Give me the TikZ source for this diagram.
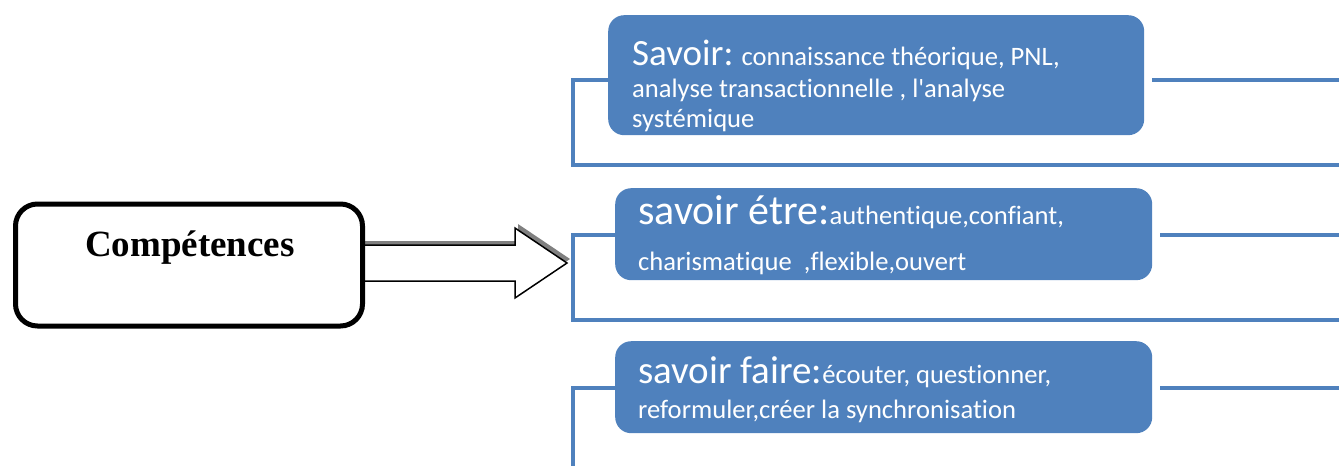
\documentclass[tikz,border=0pt]{standalone}
\usepackage{fontspec}
\setmainfont{Liberation Serif}
\newfontfamily\calib[RawFeature=-liga;-clig]{Carlito}
\usetikzlibrary{calc}
\definecolor{ofblue}{HTML}{4F81BD}
\definecolor{shadowgray}{HTML}{808080}
\tikzset{
  sbox/.style={fill=ofblue, rounded corners=16pt, inner sep=0pt, anchor=north west},
  btext/.style={anchor=base west, text=white, inner sep=0pt, font=\calib\smtxt},
  bline/.style={draw=ofblue, line width=4pt},
  compbox/.style={draw=black, line width=5pt, rounded corners=22pt, fill=white,
                  minimum width=347pt, minimum height=122pt},
}
\newcommand{\bigtxt}[2]{{\fontsize{#1}{#1}\selectfont #2}}
\newcommand{\smtxt}{\fontsize{26.6}{32}\selectfont}
\begin{document}
\begin{tikzpicture}[x=1pt,y=-1pt]
\useasboundingbox (0,0) rectangle (1339,466);

% three blue boxes
\node[sbox, minimum width=536pt, minimum height=120pt] (savoir) at (608,15) {};
\node[sbox, minimum width=537pt, minimum height=92pt] (etre) at (615,188) {};
\node[sbox, minimum width=537pt, minimum height=92pt] (faire) at (615,341) {};

\node[btext] (t1a) at (632,65) {\bigtxt{37}{Savoir:} connaissance théorique, PNL,};
\node[btext] (t1b) at (632,97) {analyse transactionnelle , l'analyse};
\node[btext] (t1c) at (632,127) {systémique};

\node[btext] (t2a) at (638,224) {\bigtxt{42}{savoir étre:}authentique,confiant,};
\node[btext] (t2b) at (638,270) {charismatique\ \ ,flexible,ouvert};

\node[btext] (t3a) at (638,383) {\bigtxt{39}{savoir faire:}écouter, questionner,};
\node[btext] (t3b) at (638,418) {reformuler,créer la synchronisation};

% end points of the bracket lines at the right and bottom edges
\coordinate (r1) at (1339,80);
\coordinate (b1) at (1339,165);
\coordinate (r2) at (1339,235);
\coordinate (b2) at (1339,320);
\coordinate (r3) at (1339,388);
\coordinate (b3) at (573,466);

% brackets
\draw[bline] ($(savoir.north west)+(0,65)$) -- (573,80) |- (b1);
\draw[bline] ($(savoir.north east)+(8,65)$) -- (r1);
\draw[bline] ($(etre.north west)+(0,47)$) -- (573,235) |- (b2);
\draw[bline] ($(etre.north east)+(8,47)$) -- (r2);
\draw[bline] ($(faire.north west)+(0,47)$) -- (573,388) -- (b3);
\draw[bline] ($(faire.north east)+(8,47)$) -- (r3);

% block arrow with its shadow
\coordinate (tip) at (567,263);
\fill[shadowgray] (360,241) -- (518,241) -- (518,224) -- ($(tip)+(3,-4)$) -- (518,294) -- (518,277) -- (360,277) -- cycle;
\draw[black, line width=1.5pt, fill=white, line join=miter]
  (360,245) -- (515,245) -- (515,228) -- (tip) -- (515,298) -- (515,281) -- (360,281);

% main box
\node[compbox] (comp) at (189,265) {};
\node[font=\fontsize{37}{40}\selectfont\bfseries, inner sep=0pt] (ctext) at (190,248) {Compétences};

\end{tikzpicture}
\end{document}
